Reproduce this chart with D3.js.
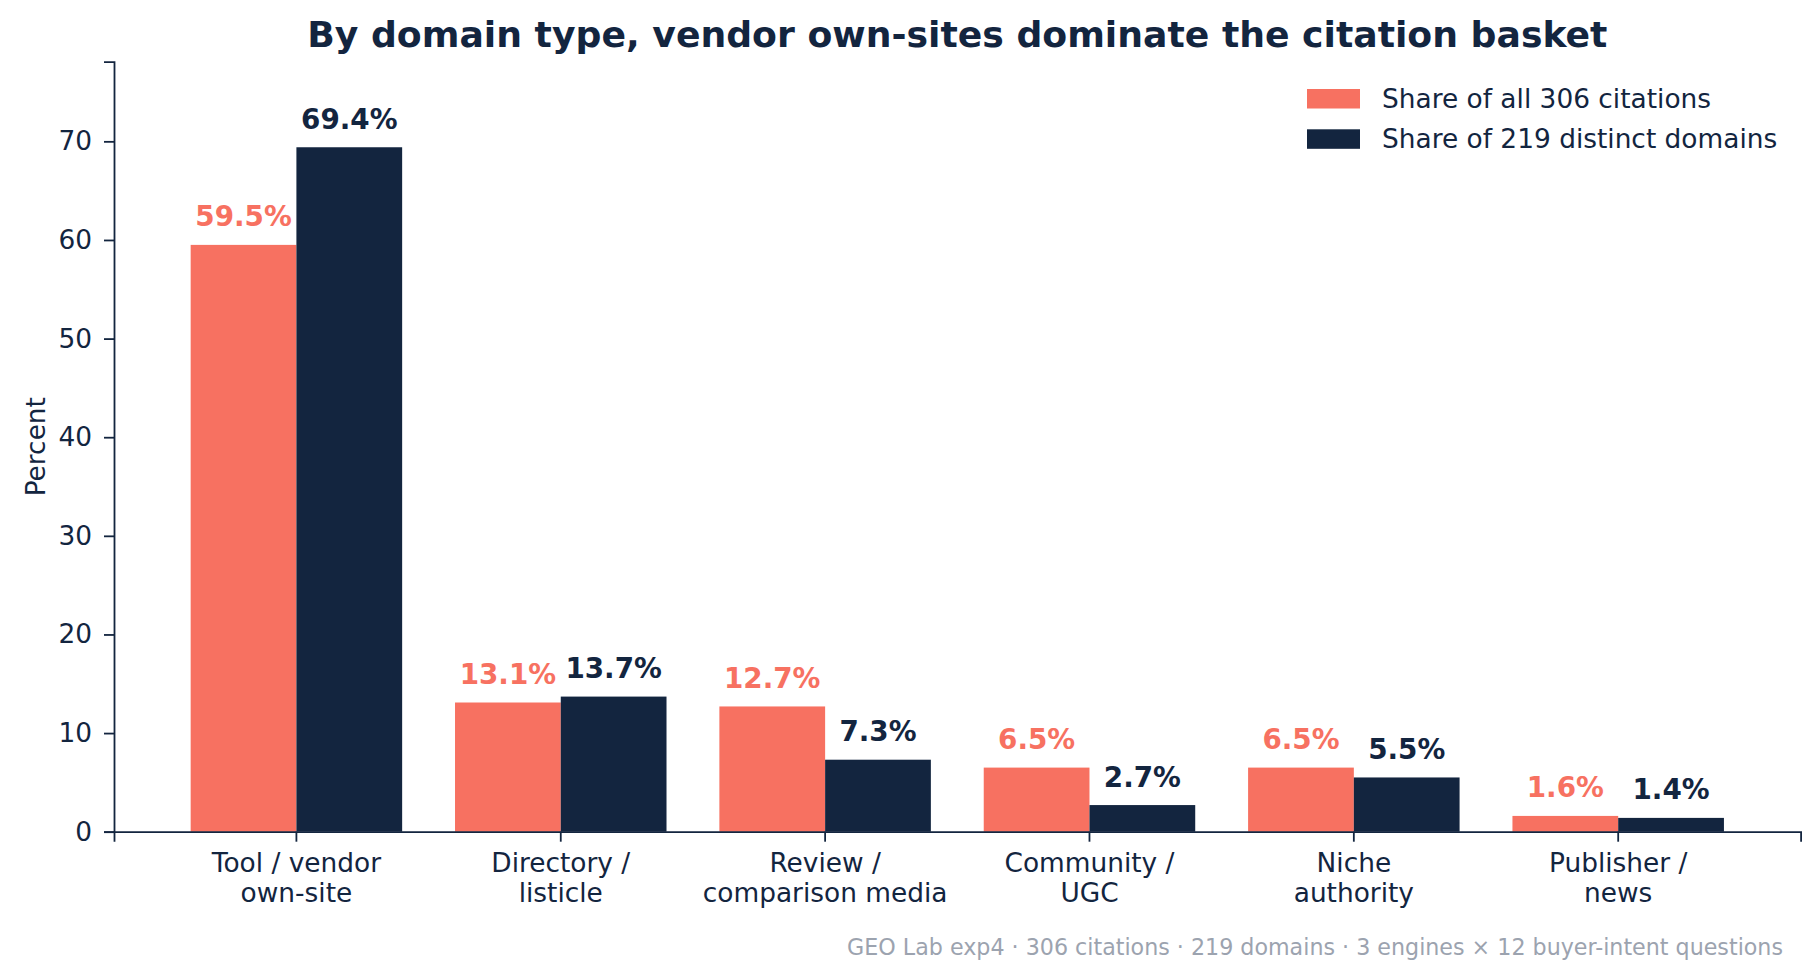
<!DOCTYPE html>
<html lang="en">
<head>
<meta charset="UTF-8">
<title>Citation basket by domain type</title>
<script src="https://cdn.jsdelivr.net/npm/d3@7"></script>
<style>
html,body{margin:0;padding:0;background:#fff}
svg{display:block;font-family:"DejaVu Sans",sans-serif}
.axis text{fill:#13253f;font-size:26.4px;font-family:"DejaVu Sans",sans-serif}
.axis line,.axis path{stroke:#13253f;stroke-width:1.8px}
</style>
</head>
<body>
<div id="chart"></div>
<script>
var categories = ['Tool / vendor\nown-site', 'Directory /\nlisticle', 'Review /\ncomparison media',
                  'Community /\nUGC', 'Niche\nauthority', 'Publisher /\nnews'];
var citationShare = [59.5, 13.1, 12.7, 6.5, 6.5, 1.6];
var domainShare = [69.4, 13.7, 7.3, 2.7, 5.5, 1.4];
var seriesNames = ['Share of all 306 citations', 'Share of 219 distinct domains'];
var yTicks = [0, 10, 20, 30, 40, 50, 60, 70];

var coral = '#f77161', navy = '#13253f';
var W = 1819, H = 979;
var margin = { top: 61.7, right: 18.4, bottom: 147.3, left: 114 };
var w = W - margin.left - margin.right;
var h = H - margin.top - margin.bottom;

var svg = d3.select('#chart').append('svg').attr('width', W).attr('height', H);
var g = svg.append('g').attr('transform', 'translate(' + margin.left + ',' + margin.top + ')');

var x = d3.scaleBand().domain(categories).range([0, w]).paddingInner(0.2).paddingOuter(0.29);
var xs = d3.scaleBand().domain([0, 1]).range([0, x.bandwidth()]);
var y = d3.scaleLinear().domain([0, d3.max(domainShare) * 1.125]).range([h, 0]);

var rows = categories.map(function(c, i) {
  return { cat: c, vals: [citationShare[i], domainShare[i]] };
});

// Bars
var grp = g.selectAll('.grp').data(rows).join('g')
  .attr('class', 'grp')
  .attr('transform', function(d) { return 'translate(' + x(d.cat) + ',0)'; });

grp.selectAll('rect').data(function(d) { return d.vals; }).join('rect')
  .attr('x', function(d, i) { return xs(i); })
  .attr('y', function(d) { return y(d); })
  .attr('width', xs.bandwidth())
  .attr('height', function(d) { return h - y(d); })
  .attr('fill', function(d, i) { return i === 0 ? coral : navy; });

grp.selectAll('text').data(function(d) { return d.vals; }).join('text')
  .attr('x', function(d, i) { return xs(i) + xs.bandwidth() / 2; })
  .attr('y', function(d) { return y(d) - 18.5; })
  .attr('text-anchor', 'middle')
  .attr('font-size', '27.8px')
  .attr('font-weight', 'bold')
  .attr('fill', function(d, i) { return i === 0 ? coral : navy; })
  .text(function(d) { return d.toFixed(1) + '%'; });

// Axes
var yAxis = d3.axisLeft(y).tickValues(yTicks).tickSize(10).tickPadding(12);
g.append('g').attr('class', 'axis').call(yAxis);

var xAxis = d3.axisBottom(x).tickSize(10).tickPadding(10).tickFormat('');
var xg = g.append('g').attr('class', 'axis').attr('transform', 'translate(0,' + h + ')').call(xAxis);
xg.selectAll('.tick').append('text')
  .attr('text-anchor', 'middle')
  .each(function(d) {
    var t = d3.select(this);
    d.split('\n').forEach(function(line, i) {
      t.append('tspan').attr('x', 0).attr('y', 40 + i * 30.5).text(line);
    });
  });

// Y label
svg.append('text')
  .attr('transform', 'translate(45,' + (margin.top + h / 2) + ') rotate(-90)')
  .attr('text-anchor', 'middle')
  .attr('font-size', '26.4px')
  .attr('fill', navy)
  .text('Percent');

// Title
svg.append('text')
  .attr('x', margin.left + w / 2).attr('y', 46.5)
  .attr('text-anchor', 'middle')
  .attr('font-size', '36.2px').attr('font-weight', 'bold')
  .attr('fill', navy)
  .text('By domain type, vendor own-sites dominate the citation basket');

// Legend
var leg = svg.append('g').attr('transform', 'translate(1307,89)');
var li = leg.selectAll('g').data(seriesNames).join('g')
  .attr('transform', function(d, i) { return 'translate(0,' + i * 40.3 + ')'; });
li.append('rect').attr('width', 53).attr('height', 19.5)
  .attr('fill', function(d, i) { return i === 0 ? coral : navy; });
li.append('text').attr('x', 75).attr('y', 19)
  .attr('font-size', '26.4px').attr('fill', navy)
  .text(function(d) { return d; });

// Footer
svg.append('text')
  .attr('x', 1783).attr('y', 955)
  .attr('text-anchor', 'end')
  .attr('font-size', '22.2px')
  .attr('fill', '#9ca3af')
  .text('GEO Lab exp4 · 306 citations · 219 domains · 3 engines × 12 buyer-intent questions');
</script>
</body>
</html>
